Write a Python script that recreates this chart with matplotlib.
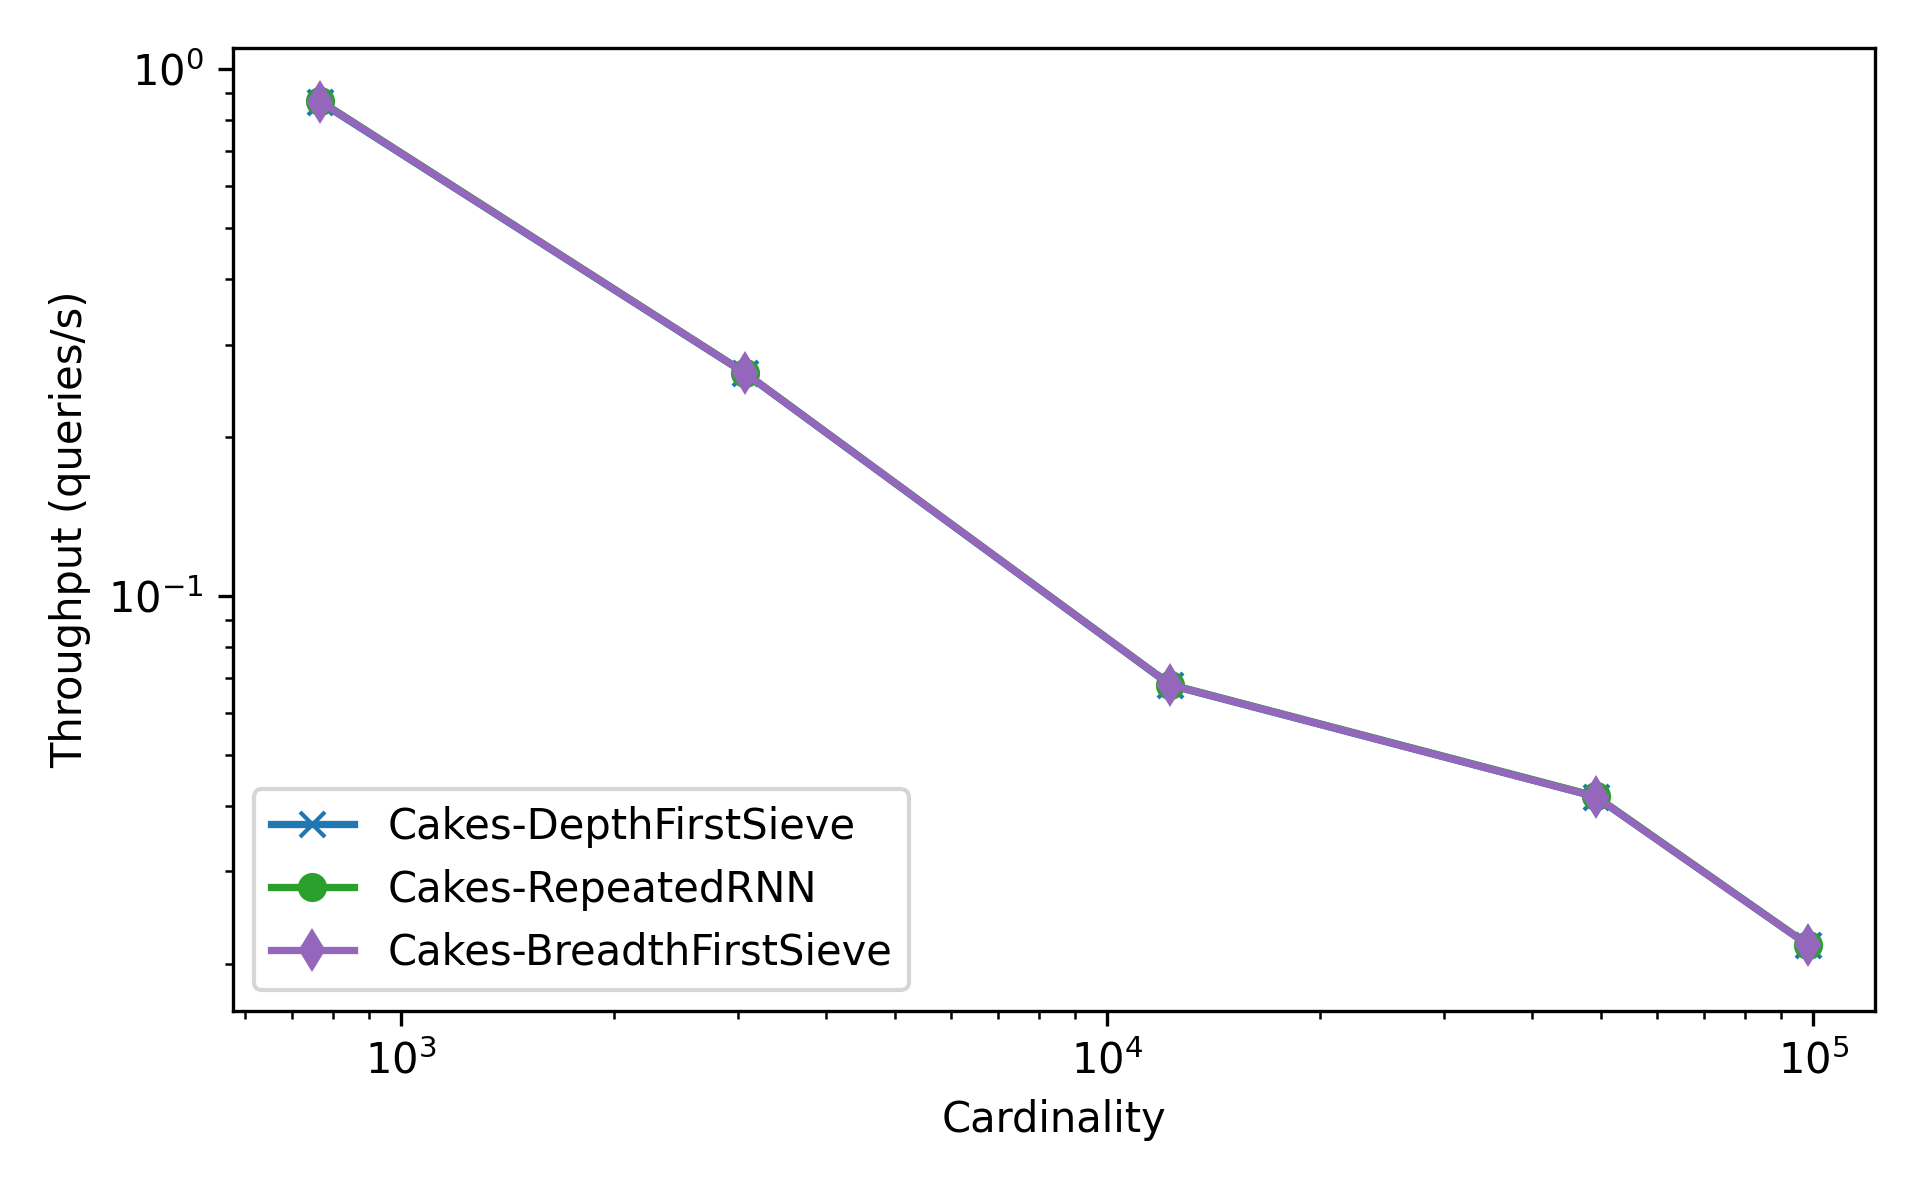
import matplotlib
matplotlib.use("Agg")
import matplotlib.pyplot as plt

cardinality = [768, 3072, 12288, 49152, 98304]
depth_first = [0.866, 0.2645, 0.0677, 0.0416, 0.02175]
repeated_rnn = [0.870, 0.2650, 0.0679, 0.0417, 0.02178]
breadth_first = [0.868, 0.2648, 0.0678, 0.0416, 0.02175]
labels = ["Cakes-DepthFirstSieve", "Cakes-RepeatedRNN", "Cakes-BreadthFirstSieve"]

fig = plt.figure(figsize=(6.4, 4.0), dpi=300)
ax = fig.add_axes([0.1214, 0.1575, 0.9766 - 0.1214, 0.9598 - 0.1575])

ax.plot(cardinality, depth_first, color="tab:blue", marker="x", linewidth=1.75, label=labels[0])
ax.plot(cardinality, repeated_rnn, color="tab:green", marker="o", linewidth=1.75, label=labels[1])
ax.plot(cardinality, breadth_first, color="tab:purple", marker="d", linewidth=1.75, label=labels[2])

ax.set_xscale("log")
ax.set_yscale("log")
ax.set_xlim(578, 122300)
ax.set_ylim(0.0163, 1.096)
ax.set_xlabel("Cardinality")
ax.set_ylabel("Throughput (queries/s)")
ax.legend(loc="lower left")

fig.savefig("out.png", dpi=300)
